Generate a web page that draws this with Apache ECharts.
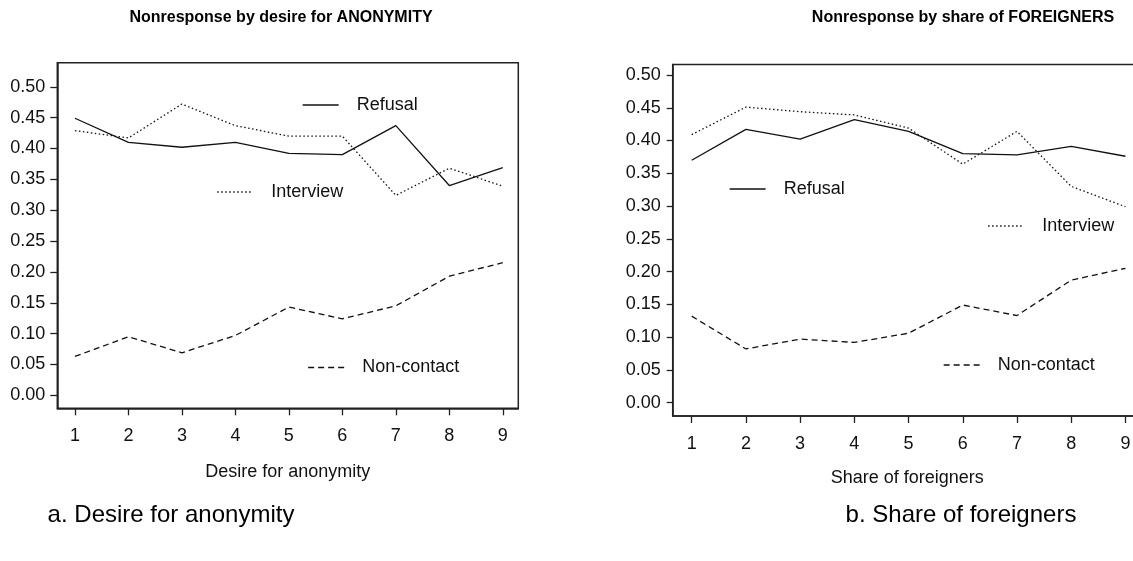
<!DOCTYPE html>
<html><head><meta charset="utf-8">
<script src="https://cdn.jsdelivr.net/npm/echarts@6/dist/echarts.min.js"></script>
<style>html,body{margin:0;padding:0;background:#fff}#c{width:1133px;height:561px}</style>
</head><body><div id="c"></div>
<script>
// ---- data ----
const xValues = [1, 2, 3, 4, 5, 6, 7, 8, 9];
const yTicks = [0, 0.05, 0.10, 0.15, 0.20, 0.25, 0.30, 0.35, 0.40, 0.45, 0.50];
const anonRefusal    = [0.449, 0.410, 0.402, 0.410, 0.392, 0.390, 0.437, 0.340, 0.369];
const anonInterview  = [0.429, 0.417, 0.472, 0.437, 0.420, 0.420, 0.324, 0.368, 0.339];
const anonNoncontact = [0.063, 0.095, 0.069, 0.097, 0.143, 0.124, 0.145, 0.193, 0.215];
const forRefusal     = [0.370, 0.417, 0.402, 0.432, 0.414, 0.380, 0.378, 0.391, 0.376];
const forInterview   = [0.409, 0.451, 0.444, 0.439, 0.419, 0.364, 0.414, 0.330, 0.299];
const forNoncontact  = [0.132, 0.082, 0.097, 0.092, 0.106, 0.149, 0.133, 0.187, 0.205];
const seriesNames = ['Refusal', 'Interview', 'Non-contact'];
const panelTitles = ['Nonresponse by desire for ANONYMITY', 'Nonresponse by share of FOREIGNERS'];
const axisNames = ['Desire for anonymity', 'Share of foreigners'];
const captions = ['a. Desire for anonymity', 'b. Share of foreigners'];

// ---- styling ----
const FONT = '"Liberation Sans", Arial, sans-serif';
const INK = '#111';
const AX = '#222';
const ctx = document.createElement('canvas').getContext('2d');
function tw(text, size, weight) { ctx.font = (weight || 'normal') + ' ' + size + 'px ' + FONT; return ctx.measureText(text).width; }

const lineTypes = ['solid', [1.5, 2.5], [6, 4]];

function mkSeries(name, vals, idx, t) {
  return {
    type: 'line', name: name, xAxisIndex: idx, yAxisIndex: idx,
    data: xValues.map((x, i) => [x, vals[i]]),
    symbol: 'none', silent: true,
    lineStyle: { color: INK, width: 1.3, type: t },
    itemStyle: { color: INK }
  };
}

function mkX(idx, min, max, gap) {
  return {
    type: 'value', gridIndex: idx, min: min, max: max,
    name: axisNames[idx], nameLocation: 'middle', nameGap: gap,
    nameTextStyle: { fontFamily: FONT, fontSize: 18, color: INK },
    axisLine: { show: true, onZero: false, lineStyle: { color: AX, width: 1.5 } },
    axisTick: { show: true, inside: false, length: 7, customValues: xValues, lineStyle: { color: AX, width: 1.3 } },
    axisLabel: { customValues: xValues, margin: 19, fontFamily: FONT, fontSize: 18, color: INK },
    splitLine: { show: false }
  };
}
function mkY(idx, min, max, tickLen) {
  return {
    type: 'value', gridIndex: idx, min: min, max: max,
    axisLine: { show: true, onZero: false, lineStyle: { color: AX, width: 1.5 } },
    axisTick: { show: true, inside: false, length: tickLen, customValues: yTicks, lineStyle: { color: AX, width: 1.3 } },
    axisLabel: { customValues: yTicks, margin: 12, fontFamily: FONT, fontSize: 18, color: INK,
                 formatter: v => Number(v).toFixed(2) },
    splitLine: { show: false }
  };
}
function mkLegend(name, left, top) {
  return {
    data: [name], left: left, top: top, padding: 0, itemWidth: 36, itemHeight: 8,
    selectedMode: false, inactiveColor: INK,
    itemStyle: { opacity: 0 },
    lineStyle: { width: 1.3 },
    textStyle: { fontFamily: FONT, fontSize: 18, color: INK, padding: [6, 0, 0, 13] }
  };
}
function mkTitle(text, cx, cy, size, weight) {
  return {
    text: text, left: cx - tw(text, size, weight) / 2, top: cy - size / 2, padding: 0,
    textStyle: { fontFamily: FONT, fontSize: size, fontWeight: weight || 'normal', color: '#000' }
  };
}

const option = {
  animation: false,
  backgroundColor: '#fff',
  title: [
    mkTitle(panelTitles[0], 281, 18, 16, 'bold'),
    mkTitle(panelTitles[1], 963, 18, 16, 'bold'),
    mkTitle(captions[0], 171, 515, 24),
    mkTitle(captions[1], 961, 515, 24)
  ],
  grid: [
    { left: 57.3, top: 62.7, width: 461, height: 345.6, outerBoundsMode: 'none', containLabel: false,
      show: true, borderColor: AX, borderWidth: 1.5, backgroundColor: 'transparent' },
    { left: 672.7, top: 64.5, width: 469, height: 351.5, outerBoundsMode: 'none', containLabel: false,
      show: true, borderColor: AX, borderWidth: 1.5, backgroundColor: 'transparent' }
  ],
  xAxis: [ mkX(0, 0.67, 9.29, 55), mkX(1, 0.65, 9.3, 53.5) ],
  yAxis: [ mkY(0, -0.021, 0.539, 7), mkY(1, -0.0203, 0.516, 6) ],
  legend: [
    mkLegend(seriesNames[0], 302, 96),
    mkLegend(seriesNames[1], 216.5, 183),
    mkLegend(seriesNames[2], 307.5, 358.5),
    mkLegend(seriesNames[0], 729, 180),
    mkLegend(seriesNames[1], 987.5, 217),
    mkLegend(seriesNames[2], 943, 356)
  ],
  series: [
    mkSeries(seriesNames[0], anonRefusal, 0, lineTypes[0]),
    mkSeries(seriesNames[1], anonInterview, 0, lineTypes[1]),
    mkSeries(seriesNames[2], anonNoncontact, 0, lineTypes[2]),
    mkSeries(seriesNames[0], forRefusal, 1, lineTypes[0]),
    mkSeries(seriesNames[1], forInterview, 1, lineTypes[1]),
    mkSeries(seriesNames[2], forNoncontact, 1, lineTypes[2])
  ]
};
const chart = echarts.init(document.getElementById('c'), null, { renderer: 'canvas' });
chart.setOption(option);
</script>
</body></html>
